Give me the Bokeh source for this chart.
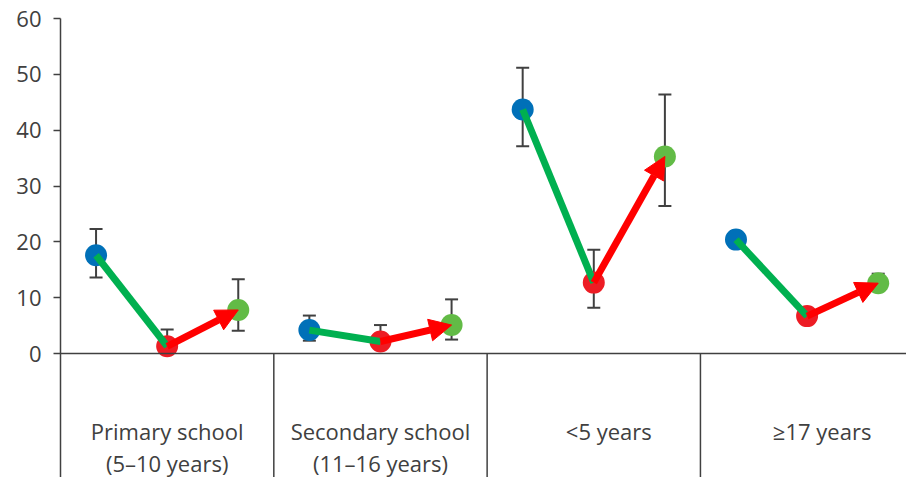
from bokeh.plotting import figure
from bokeh.models import (ColumnDataSource, Whisker, TeeHead, Arrow, NormalHead,
                          Span, FixedTicker, Range1d)
from bokeh.core.properties import value
from bokeh.embed import file_html
from bokeh.resources import INLINE

# ---- data ----
groups = ["Primary school\n(5–10 years)", "Secondary school\n(11–16 years)",
          "<5 years", "≥17 years"]
before = [17.6, 4.2, 43.7, 20.4]
before_lo = [13.6, 2.3, 37.1, 19.4]
before_hi = [22.3, 6.8, 51.2, 21.4]
during = [1.3, 2.15, 12.7, 6.7]
during_lo = [0.0, 1.0, 8.2, 5.7]
during_hi = [4.3, 5.1, 18.6, 7.7]
after = [7.8, 5.1, 35.3, 12.6]
after_lo = [4.1, 2.5, 26.4, 11.2]
after_hi = [13.3, 9.7, 46.4, 14.3]
y_ticks = [0, 10, 20, 30, 40, 50, 60]

FONT = "Open Sans"
TXT = "#404040"

n = len(groups)
idx = list(range(n))
xb = [i + 1 / 6 for i in idx]
xd = [i + 0.5 for i in idx]
xa = [i + 5 / 6 for i in idx]

p = figure(width=906, height=477, output_backend="svg", toolbar_location=None,
           x_range=Range1d(0, 3.966), y_range=Range1d(-22.2, 60),
           min_border_left=60, min_border_right=0, min_border_top=18,
           min_border_bottom=0)
p.outline_line_color = None
p.xgrid.visible = False
p.ygrid.visible = False
p.xaxis.visible = False
p.background_fill_color = "white"

ax = p.yaxis[0]
ax.ticker = FixedTicker(ticks=y_ticks)
ax.axis_line_color = TXT
ax.axis_line_width = 1.5
ax.major_tick_line_color = TXT
ax.major_tick_line_width = 1.5
ax.major_tick_out = 7
ax.major_tick_in = 0
ax.minor_tick_line_color = None
ax.major_label_text_font = FONT
ax.major_label_text_font_size = "22px"
ax.major_label_text_color = TXT
ax.major_label_standoff = 12

# zero line and group separators
p.add_layout(Span(location=0, dimension="width", line_color=TXT, line_width=1.5))
p.segment(x0=[1, 2, 3], y0=[0, 0, 0], x1=[1, 2, 3], y1=[-22.2] * 3,
          line_color=TXT, line_width=1.5)

# error bars (under markers)
for xs, lo, hi in ((xb, before_lo, before_hi), (xd, during_lo, during_hi), (xa, after_lo, after_hi)):
    src = ColumnDataSource(dict(x=xs, lo=lo, hi=hi))
    w = Whisker(source=src, base="x", lower="lo", upper="hi", level="underlay",
                line_color=TXT, line_width=2,
                upper_head=TeeHead(size=13, line_color=TXT, line_width=2),
                lower_head=TeeHead(size=13, line_color=TXT, line_width=2))
    p.add_layout(w)

# markers
p.scatter(xb, before, size=22, fill_color="#0070b8", line_color=None)
p.scatter(xd, during, size=22, fill_color="#ed1c24", line_color=None)
p.scatter(xa, after, size=22, fill_color="#62bb46", line_color=None)

# green connector before -> during
p.segment(x0=xb, y0=before, x1=xd, y1=during, line_color="#00b050",
          line_width=7, line_cap="butt")

# red arrow during -> after
asrc = ColumnDataSource(dict(x0=xd, y0=during, x1=xa, y1=after))
p.add_layout(Arrow(source=asrc, x_start="x0", y_start="y0", x_end="x1", y_end="y1",
                   line_color="#ff0000", line_width=7,
                   end=NormalHead(size=22, fill_color="#ff0000", line_color="#ff0000",
                                  line_width=1)))

# category labels
xoff = [0 if "\n" in g else 15 for g in groups]
lsrc = ColumnDataSource(dict(x=xd, y=[-11.1] * n, t=groups, xo=xoff))
p.text(x="x", y="y", text="t", x_offset="xo", source=lsrc, text_align="center",
       text_baseline="top", text_font=value(FONT), text_font_size="22px",
       text_color=TXT, text_line_height=1.07)

open("out.html", "w").write(file_html(p, INLINE))
